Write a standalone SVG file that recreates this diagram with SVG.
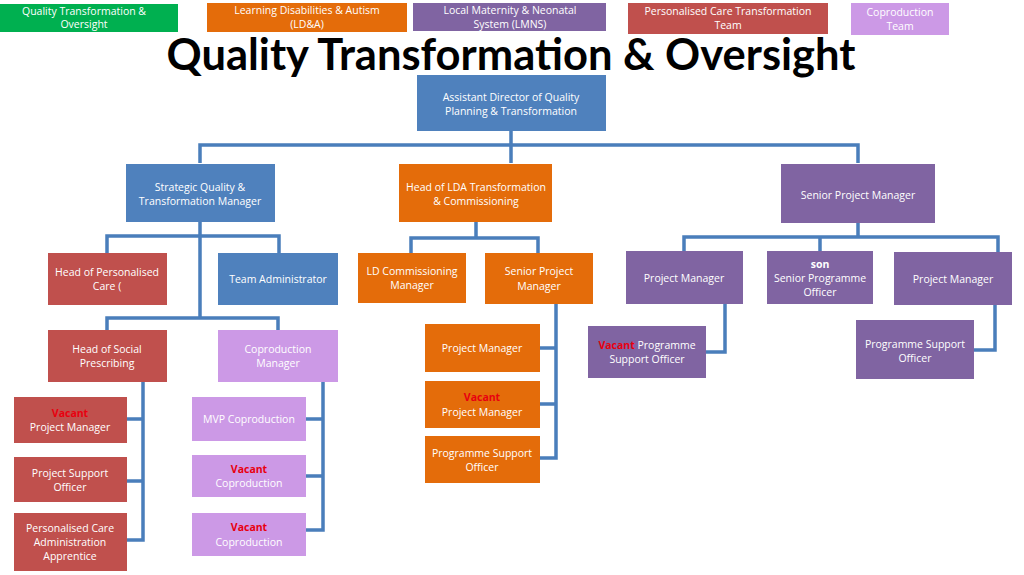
<svg xmlns="http://www.w3.org/2000/svg" width="1024" height="575" viewBox="0 0 1024 575">
<style>
text{font-family:"Open Sans","Liberation Sans",sans-serif;font-size:10.5px;fill:#fff;text-anchor:middle}
.t{font-family:Lato,"Open Sans",sans-serif;font-weight:bold;font-size:43.5px;fill:#000}
.v{fill:#e8000f;font-weight:bold}
.bl{fill:#4f81bd}.or{fill:#e46c0a}.pu{fill:#8064a2}.rd{fill:#c0504d}.li{fill:#cc99e6}.gr{fill:#00b050}
#conn path{fill:none;stroke:#4a7ebb;stroke-width:3.5}
</style>
<rect width="1024" height="575" fill="#fff"/>
<g id="legend">
<rect class="gr" x="0" y="4" width="178" height="28"/><text x="84" y="15">Quality Transformation &amp;</text><text x="84" y="28">Oversight</text>
<rect class="or" x="207" y="3" width="200" height="29"/><text x="307" y="14">Learning Disabilities &amp; Autism</text><text x="307" y="28">(LD&amp;A)</text>
<rect class="pu" x="413" y="3" width="193" height="28"/><text x="510" y="14">Local Maternity &amp; Neonatal</text><text x="510" y="28">System (LMNS)</text>
<rect class="rd" x="628" y="3" width="200" height="31"/><text x="728" y="15">Personalised Care Transformation</text><text x="728" y="29">Team</text>
<rect class="li" x="851" y="3" width="98" height="32"/><text x="900" y="16">Coproduction</text><text x="900" y="30">Team</text>
</g>
<text class="t" x="511" y="70">Quality Transformation &amp; Oversight</text>
<g id="conn">
<path d="M511 131V145M200 163V145H858V163M511 145V163"/>
<path d="M200 222V318M107 253V236H279V253M107 330V318H278V330"/>
<path d="M127 419H143M143 382V540H127M127 481H143"/>
<path d="M306 419H323M323 382V530H306M306 476H323"/>
<path d="M476 222V238M411 253V238H538V253"/>
<path d="M540 348H556M556 304V458H540M540 404H556"/>
<path d="M858 223V237M684 251V237H998V252M820 237V251"/>
<path d="M725 304V352H706"/>
<path d="M995 305V350H974"/>
</g>
<g id="ad"><rect class="bl" x="417" y="75" width="189" height="56"/><text x="511" y="101">Assistant Director of Quality</text><text x="511" y="115">Planning &amp; Transformation</text></g>
<g id="sqtm"><rect class="bl" x="126" y="164" width="149" height="58"/><text x="200" y="191">Strategic Quality &amp;</text><text x="200" y="205">Transformation Manager</text></g>
<g id="hlda"><rect class="or" x="399" y="164" width="153" height="58"/><text x="476" y="191">Head of LDA Transformation</text><text x="476" y="205">&amp; Commissioning</text></g>
<g id="spm"><rect class="pu" x="781" y="164" width="154" height="59"/><text x="858" y="199">Senior Project Manager</text></g>
<g id="hpc"><rect class="rd" x="48" y="253" width="119" height="52"/><text x="107" y="276">Head of Personalised</text><text x="107" y="290">Care (</text></g>
<g id="ta"><rect class="bl" x="218" y="253" width="120" height="52"/><text x="278" y="283">Team Administrator</text></g>
<g id="hsp"><rect class="rd" x="48" y="330" width="119" height="52"/><text x="107" y="353">Head of Social</text><text x="107" y="367">Prescribing</text></g>
<g id="cm"><rect class="li" x="218" y="330" width="120" height="52"/><text x="278" y="353">Coproduction</text><text x="278" y="367">Manager</text></g>
<g id="vpm"><rect class="rd" x="14" y="397" width="113" height="46"/><text x="70" y="417" class="v">Vacant</text><text x="70" y="431">Project Manager</text></g>
<g id="pso"><rect class="rd" x="14" y="457" width="113" height="45"/><text x="70" y="477">Project Support</text><text x="70" y="491">Officer</text></g>
<g id="pcaa"><rect class="rd" x="14" y="513" width="113" height="58"/><text x="70" y="532">Personalised Care</text><text x="70" y="546">Administration</text><text x="70" y="560">Apprentice</text></g>
<g id="mvp"><rect class="li" x="192" y="397" width="114" height="44"/><text x="249" y="423">MVP Coproduction</text></g>
<g id="vc1"><rect class="li" x="192" y="455" width="114" height="42"/><text x="249" y="473" class="v">Vacant</text><text x="249" y="487">Coproduction</text></g>
<g id="vc2"><rect class="li" x="192" y="513" width="114" height="43"/><text x="249" y="531" class="v">Vacant</text><text x="249" y="546">Coproduction</text></g>
<g id="ldcm"><rect class="or" x="358" y="253" width="108" height="50"/><text x="412" y="275">LD Commissioning</text><text x="412" y="289">Manager</text></g>
<g id="lspm"><rect class="or" x="485" y="253" width="108" height="51"/><text x="539" y="275">Senior Project</text><text x="539" y="290">Manager</text></g>
<g id="lpm"><rect class="or" x="425" y="324" width="115" height="48"/><text x="482" y="352">Project Manager</text></g>
<g id="lvpm"><rect class="or" x="425" y="381" width="115" height="47"/><text x="482" y="401" class="v">Vacant</text><text x="482" y="416">Project Manager</text></g>
<g id="lpso"><rect class="or" x="425" y="436" width="115" height="47"/><text x="482" y="457">Programme Support</text><text x="482" y="471">Officer</text></g>
<g id="ppm1"><rect class="pu" x="626" y="251" width="117" height="53"/><text x="684" y="282">Project Manager</text></g>
<g id="pspo"><rect class="pu" x="767" y="251" width="106" height="53"/><text x="820" y="268" font-weight="bold">son</text><text x="820" y="282">Senior Programme</text><text x="820" y="296">Officer</text></g>
<g id="ppm2"><rect class="pu" x="894" y="252" width="118" height="53"/><text x="953" y="283">Project Manager</text></g>
<g id="vpso"><rect class="pu" x="588" y="326" width="118" height="52"/><text x="647" y="349"><tspan class="v">Vacant</tspan> Programme</text><text x="647" y="363">Support Officer</text></g>
<g id="ppso"><rect class="pu" x="856" y="320" width="118" height="59"/><text x="915" y="348">Programme Support</text><text x="915" y="362">Officer</text></g>
</svg>
